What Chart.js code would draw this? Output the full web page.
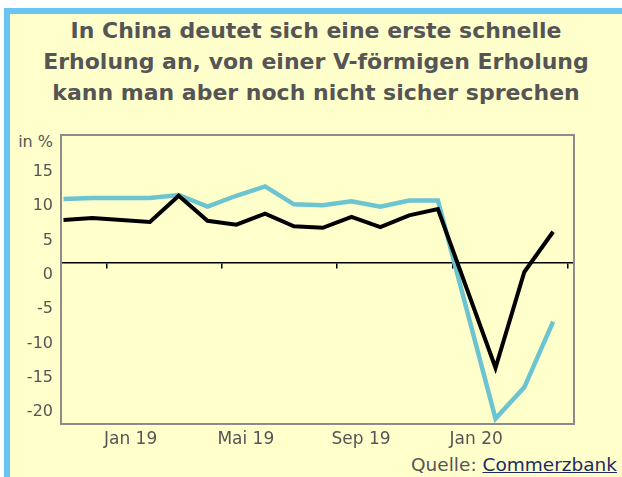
<!DOCTYPE html>
<html>
<head>
<meta charset="utf-8">
<script src="https://cdn.jsdelivr.net/npm/chart.js@4"></script>
<style>
    body { margin: 0; background: #fff; font-family: "DejaVu Sans", sans-serif; }
    #box {
        position: absolute; left: 4px; top: 8px; width: 618px; height: 469px;
        background: #ffffcc; border-left: 6px solid #69c5ef; border-top: 6px solid #69c5ef;
    }
    #title {
        position: absolute; left: 10px; top: 15px; width: 612px; text-align: center;
        font-weight: bold; font-size: 22px; line-height: 31px; color: #555;
    }
    #unit {
        position: absolute; left: 0; top: 132px; width: 53px; text-align: right;
        font-size: 16px; line-height: 20px; color: #555;
    }
    #source {
        position: absolute; right: 5px; top: 454px; font-size: 18.5px; line-height: 22px; color: #555;
    }
    #source a { color: #1c2a66; text-decoration: underline; }
    #chart { position: absolute; left: 0; top: 0; }
</style>
</head>
<body>
<div id="box"></div>
<div id="title">In China deutet sich eine erste schnelle<br>Erholung an, von einer V-förmigen Erholung<br>kann man aber noch nicht sicher sprechen</div>
<div id="unit">in %</div>
<div id="source">Quelle: <a>Commerzbank</a></div>
<canvas id="chart" width="622" height="477"></canvas>

<script>
// months Nov 18 .. Apr 20, January values are not published separately (Jan/Feb combined)
const months = ["Nov 18", "Dez 18", "Jan 19", "Feb 19", "Mrz 19", "Apr 19", "Mai 19", "Jun 19", "Jul 19",
    "Aug 19", "Sep 19", "Okt 19", "Nov 19", "Dez 19", "Jan 20", "Feb 20", "Mrz 20", "Apr 20"];
const industrie = [5.5, 5.75, null, 5.25, 8.6, 5.4, 4.9, 6.3, 4.7, 4.5, 5.9, 4.6, 6.1, 6.9, null, -13.4, -1.15, 4.0];
const einzelhandel = [8.2, 8.3, null, 8.3, 8.7, 7.2, 8.6, 9.8, 7.5, 7.4, 7.9, 7.2, 8.0, 8.0, null, -19.9, -15.9, -7.5];

const xTickLabels = ["Jan 19", "Mai 19", "Sep 19", "Jan 20"];
const xTickMonths = [2, 6, 10, 14];
const yTickLabels = [-20, -15, -10, -5, 0, 5, 10, 15];

const X_MIN = -0.087, X_MAX = 17.725;

function points(values) {
    return values.map((v, i) => ({ x: i, y: v }));
}

// grey frame around the plot area
const framePlugin = {
    id: "frame",
    beforeDatasetsDraw(chart) {
        const a = chart.chartArea;
        const ctx = chart.ctx;
        ctx.save();
        ctx.strokeStyle = "#8c8c8c";
        ctx.lineWidth = 2;
        ctx.strokeRect(a.left, a.top, a.right - a.left, a.bottom - a.top);
        ctx.restore();
    }
};

Chart.defaults.font.family = "'DejaVu Sans', sans-serif";

new Chart(document.getElementById("chart"), {
    type: "line",
    data: {
        datasets: [{
            label: "Industrieproduktion",
            data: points(industrie),
            borderColor: "#000000",
            borderWidth: 4,
            pointRadius: 0,
            spanGaps: true,
            xAxisID: "x",
            yAxisID: "y"
        }, {
            label: "Einzelhandelsumsatz",
            data: points(einzelhandel),
            borderColor: "#6cc4d0",
            borderWidth: 4.5,
            pointRadius: 0,
            spanGaps: true,
            xAxisID: "x",
            yAxisID: "y"
        }]
    },
    options: {
        responsive: false,
        animation: false,
        devicePixelRatio: 1,
        layout: { padding: { top: 135, right: 48, left: 0, bottom: 0 } },
        plugins: { legend: { display: false }, tooltip: { enabled: false } },
        scales: {
            x: { type: "linear", display: false, min: X_MIN, max: X_MAX },
            y: { type: "linear", display: false, min: -20.59, max: 16.37 },
            // zero line with month-boundary tick marks
            x0: {
                type: "linear",
                position: { y: 0 },
                min: X_MIN, max: X_MAX,
                afterBuildTicks: s => { s.ticks = [1.5, 5.5, 9.5, 13.5, 17.5].map(v => ({ value: v })); },
                ticks: { display: false },
                grid: { drawOnChartArea: false, drawTicks: true, tickLength: 5, color: "#000", lineWidth: 1.5 },
                border: { display: true, color: "#000", width: 1.5 }
            },
            xl: {
                type: "linear",
                position: "bottom",
                min: X_MIN, max: X_MAX,
                afterBuildTicks: s => { s.ticks = xTickMonths.map(m => ({ value: m + 0.33 })); },
                afterFit: s => { s.height = 53; },
                ticks: {
                    padding: 5,
                    maxRotation: 0,
                    autoSkip: false,
                    color: "#555",
                    font: { size: 17 },
                    callback: (v, i) => xTickLabels[i]
                },
                grid: { display: false, drawTicks: false },
                border: { display: false }
            },
            yl: {
                type: "linear",
                position: "left",
                min: -21.75, max: 20.39,
                afterBuildTicks: s => { s.ticks = yTickLabels.map(v => ({ value: v })); },
                afterFit: s => { s.width = 61; },
                ticks: {
                    padding: 8,
                    color: "#555",
                    font: { size: 16 },
                    callback: v => String(v)
                },
                grid: { display: false, drawTicks: false },
                border: { display: false }
            }
        }
    },
    plugins: [framePlugin]
});
</script>
</body>
</html>
